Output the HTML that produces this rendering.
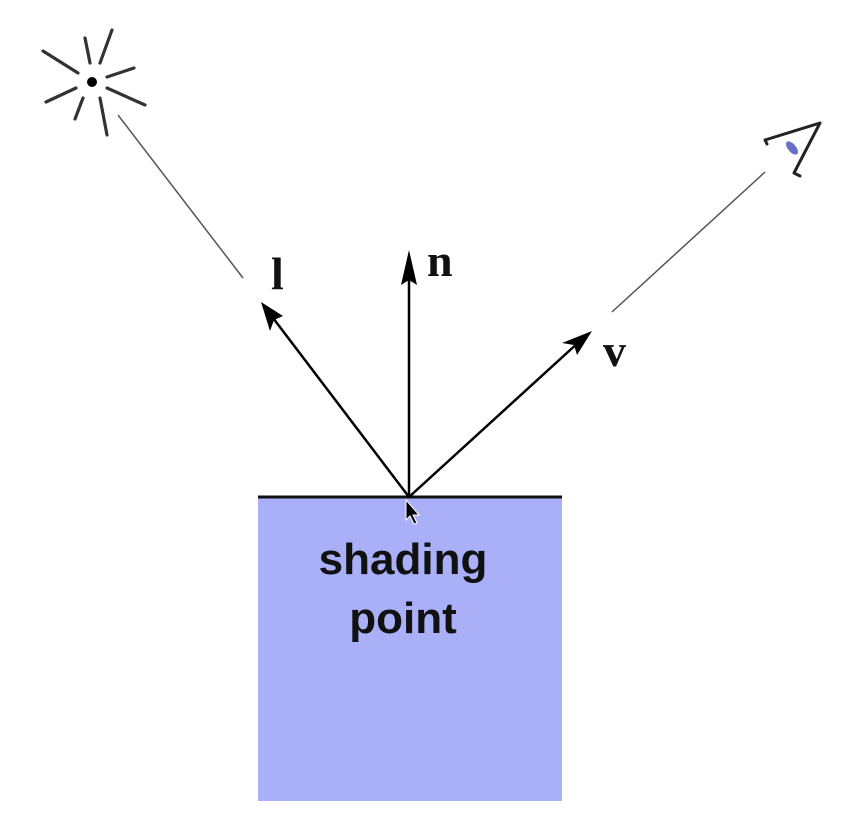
<!DOCTYPE html>
<html><head><style>
html,body{margin:0;padding:0;background:#fff;}
svg{display:block;}
</style></head><body>
<svg width="841" height="820" viewBox="0 0 841 820" xmlns="http://www.w3.org/2000/svg">
<rect x="258" y="497" width="304" height="304" fill="#aab0f8"/>
<line x1="258" y1="497" x2="562" y2="497" stroke="#111" stroke-width="3"/>
<g stroke="#333" stroke-width="3.2" stroke-linecap="round">
<line x1="43" y1="51" x2="78" y2="73"/>
<line x1="85" y1="38" x2="90" y2="63"/>
<line x1="112" y1="30" x2="100" y2="63"/>
<line x1="107" y1="77" x2="134" y2="68"/>
<line x1="107" y1="88" x2="145" y2="105"/>
<line x1="100" y1="98" x2="107" y2="135"/>
<line x1="83" y1="98" x2="75" y2="119"/>
<line x1="76" y1="88" x2="46" y2="102"/>
</g>
<circle cx="92" cy="82" r="5" fill="#000"/>
<line x1="118" y1="115" x2="243" y2="278" stroke="#555" stroke-width="1.5"/>
<line x1="612" y1="312" x2="765" y2="172" stroke="#555" stroke-width="1.5"/>
<g stroke="#222" stroke-width="3" fill="none" stroke-linecap="round" stroke-linejoin="round">
<polyline points="767,144 765,140 820,123 794,173 800,176"/>
</g>
<ellipse cx="792" cy="148" rx="4" ry="8" transform="rotate(-40 792 148)" fill="#6670c8"/>
<g stroke="#000" stroke-width="2.5">
<line x1="409" y1="497" x2="270" y2="314"/>
<line x1="409" y1="497" x2="409" y2="266"/>
<line x1="409" y1="497" x2="580" y2="341"/>
</g>
<g fill="#000">
<polygon points="261,302 283,316 274,320 270,331"/>
<polygon points="409,250 417,285 409,280 401,285"/>
<polygon points="592,331 577,355 574,345 562,343"/>
</g>
<g font-family="Liberation Serif, serif" font-weight="bold" font-size="46" fill="#111">
<text x="271" y="289">l</text>
<text x="427" y="276">n</text>
<text x="603" y="366">v</text>
</g>
<g font-family="Liberation Sans, sans-serif" font-weight="bold" font-size="44" fill="#111" text-anchor="middle">
<text x="403" y="574">shading</text>
<text x="403" y="633">point</text>
</g>
<polygon points="406,500 406,520 410,516 414,524 417,523 413,515 419,515" fill="#000" stroke="#fff" stroke-width="1"/>
</svg>
</body></html>
